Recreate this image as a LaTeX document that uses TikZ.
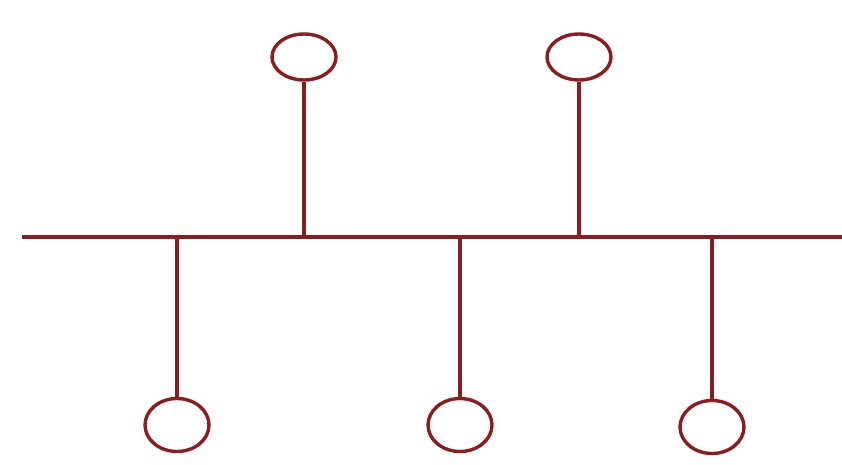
\documentclass[tikz,border=0pt]{standalone}
\usepackage{tikz}
\usetikzlibrary{shapes.geometric,positioning}
\definecolor{busred}{RGB}{140,28,30}

\begin{document}
\begin{tikzpicture}[
    x=1pt, y=1pt,
    station/.style={ellipse, draw=busred, line width=3.4pt, minimum width=64pt, minimum height=#1, inner sep=0pt},
    station/.default=46pt,
    wire/.style={draw=busred, line width=3.4pt}
  ]
    \useasboundingbox (0,0) rectangle (842,464);

    % Bus line
    \coordinate (busL) at (22,227);
    \coordinate (busR) at (842,227);
    \draw[wire] (busL) -- (busR);

    % Stations above the bus
    \node[station] (top1) at (304,407) {};
    \node[station] (top2) at (579,407) {};

    % Stations below the bus
    \node[station=53pt] (bot1) at (177,39) {};
    \node[station=53pt] (bot2) at (460,39) {};
    \node[station=53pt] (bot3) at (712,37) {};

    % Drop lines
    \draw[wire] (top1) -- (top1 |- busL);
    \draw[wire] (top2) -- (top2 |- busL);
    \draw[wire] (bot1) -- (bot1 |- busL);
    \draw[wire] (bot2) -- (bot2 |- busL);
    \draw[wire] (bot3) -- (bot3 |- busL);
  \end{tikzpicture}
\end{document}
